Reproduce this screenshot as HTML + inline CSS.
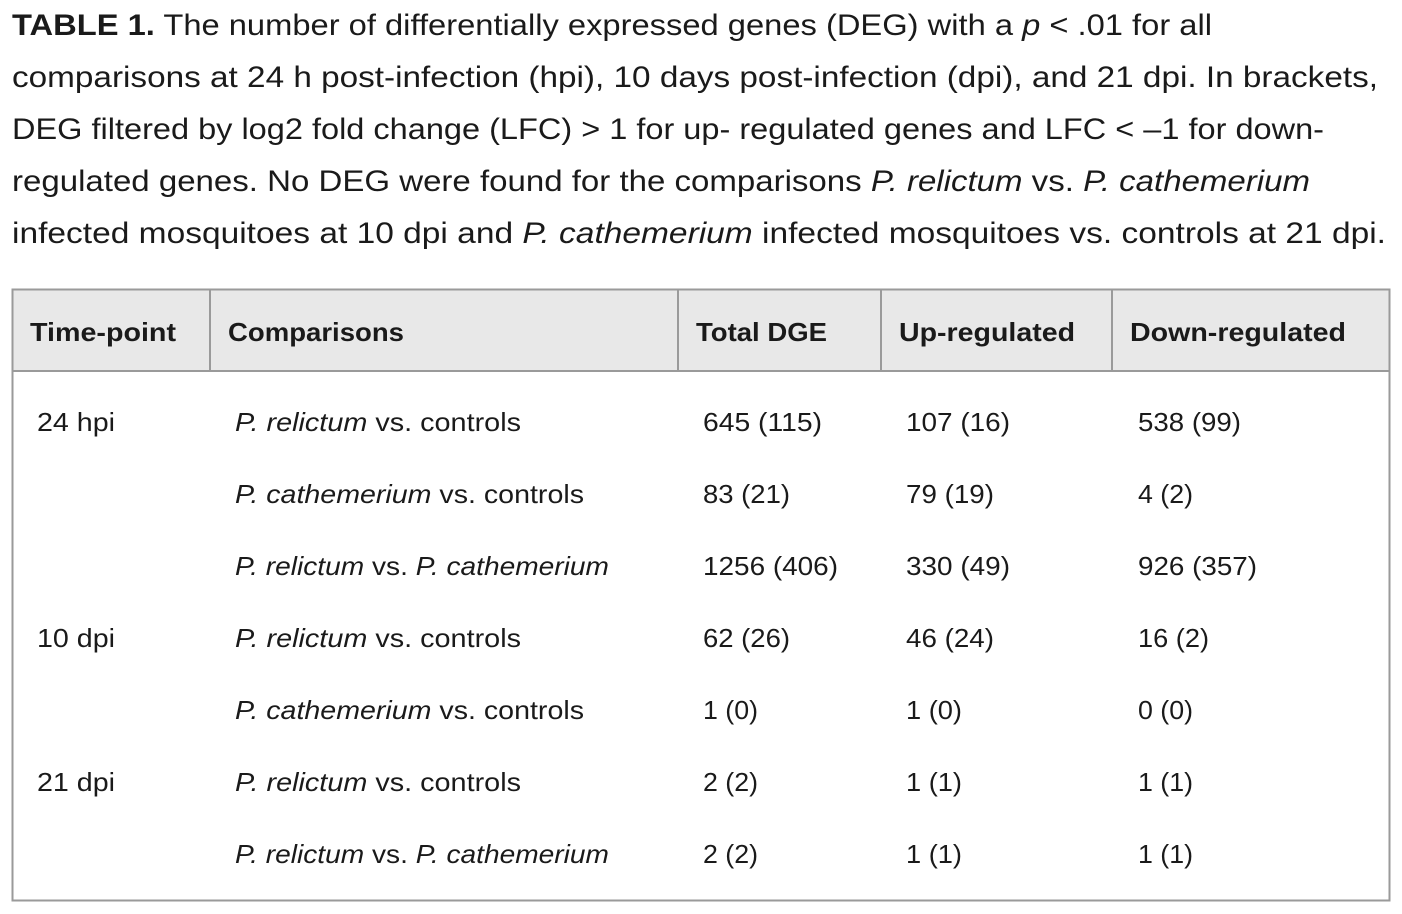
<!DOCTYPE html>
<html><head><meta charset="utf-8"><style>
html,body{margin:0;padding:0;background:#fff;}
svg{display:block;}
text{font-family:"Liberation Sans",Arial,sans-serif;fill:#1a1a1a;}
.c{font-size:30px;}
.h{font-size:26px;font-weight:bold;}
.t{font-size:26px;}
</style></head><body>
<svg width="1402" height="914" viewBox="0 0 1402 914" xmlns="http://www.w3.org/2000/svg">
<text class="c" x="12" y="35" textLength="1200" lengthAdjust="spacingAndGlyphs"><tspan font-weight="bold">TABLE 1.</tspan> The number of differentially expressed genes (DEG) with a <tspan font-style="italic">p</tspan> &lt; .01 for all</text>
<text class="c" x="12" y="87" textLength="1366" lengthAdjust="spacingAndGlyphs">comparisons at 24 h post-infection (hpi), 10 days post-infection (dpi), and 21 dpi. In brackets,</text>
<text class="c" x="12" y="139" textLength="1312" lengthAdjust="spacingAndGlyphs">DEG filtered by log2 fold change (LFC) &gt; 1 for up- regulated genes and LFC &lt; –1 for down-</text>
<text class="c" x="12" y="191" textLength="1298" lengthAdjust="spacingAndGlyphs">regulated genes. No DEG were found for the comparisons <tspan font-style="italic">P. relictum</tspan> vs. <tspan font-style="italic">P. cathemerium</tspan></text>
<text class="c" x="12" y="243" textLength="1374" lengthAdjust="spacingAndGlyphs">infected mosquitoes at 10 dpi and <tspan font-style="italic">P. cathemerium</tspan> infected mosquitoes vs. controls at 21 dpi.</text>

<rect x="12.5" y="289.5" width="1377" height="82" fill="#e8e8e8"/>
<rect x="12.5" y="289.5" width="1377" height="611" fill="none" stroke="#9a9a9a" stroke-width="2"/>
<line x1="12" y1="371" x2="1390" y2="371" stroke="#9a9a9a" stroke-width="2"/>
<g stroke="#9a9a9a" stroke-width="2">
<line x1="210" y1="289" x2="210" y2="371"/><line x1="678" y1="289" x2="678" y2="371"/>
<line x1="881" y1="289" x2="881" y2="371"/><line x1="1112" y1="289" x2="1112" y2="371"/>
</g>
<text class="h" x="30" y="341" textLength="146" lengthAdjust="spacingAndGlyphs">Time-point</text>
<text class="h" x="228" y="341" textLength="176" lengthAdjust="spacingAndGlyphs">Comparisons</text>
<text class="h" x="696" y="341" textLength="131" lengthAdjust="spacingAndGlyphs">Total DGE</text>
<text class="h" x="899" y="341" textLength="176" lengthAdjust="spacingAndGlyphs">Up-regulated</text>
<text class="h" x="1130" y="341" textLength="216" lengthAdjust="spacingAndGlyphs">Down-regulated</text>

<g>
<text class="t" x="37" y="431" textLength="78" lengthAdjust="spacingAndGlyphs">24 hpi</text>
<text class="t" x="37" y="647" textLength="78" lengthAdjust="spacingAndGlyphs">10 dpi</text>
<text class="t" x="37" y="791" textLength="78" lengthAdjust="spacingAndGlyphs">21 dpi</text>

<text class="t" x="235" y="431" textLength="286" lengthAdjust="spacingAndGlyphs"><tspan font-style="italic">P. relictum</tspan> vs. controls</text>
<text class="t" x="235" y="503" textLength="349" lengthAdjust="spacingAndGlyphs"><tspan font-style="italic">P. cathemerium</tspan> vs. controls</text>
<text class="t" x="235" y="575" textLength="374" lengthAdjust="spacingAndGlyphs"><tspan font-style="italic">P. relictum</tspan> vs. <tspan font-style="italic">P. cathemerium</tspan></text>
<text class="t" x="235" y="647" textLength="286" lengthAdjust="spacingAndGlyphs"><tspan font-style="italic">P. relictum</tspan> vs. controls</text>
<text class="t" x="235" y="719" textLength="349" lengthAdjust="spacingAndGlyphs"><tspan font-style="italic">P. cathemerium</tspan> vs. controls</text>
<text class="t" x="235" y="791" textLength="286" lengthAdjust="spacingAndGlyphs"><tspan font-style="italic">P. relictum</tspan> vs. controls</text>
<text class="t" x="235" y="863" textLength="374" lengthAdjust="spacingAndGlyphs"><tspan font-style="italic">P. relictum</tspan> vs. <tspan font-style="italic">P. cathemerium</tspan></text>

<text class="t" x="703" y="431" textLength="119" lengthAdjust="spacingAndGlyphs">645 (115)</text>
<text class="t" x="703" y="503" textLength="87" lengthAdjust="spacingAndGlyphs">83 (21)</text>
<text class="t" x="703" y="575" textLength="135" lengthAdjust="spacingAndGlyphs">1256 (406)</text>
<text class="t" x="703" y="647" textLength="87" lengthAdjust="spacingAndGlyphs">62 (26)</text>
<text class="t" x="703" y="719" textLength="55" lengthAdjust="spacingAndGlyphs">1 (0)</text>
<text class="t" x="703" y="791" textLength="55" lengthAdjust="spacingAndGlyphs">2 (2)</text>
<text class="t" x="703" y="863" textLength="55" lengthAdjust="spacingAndGlyphs">2 (2)</text>

<text class="t" x="906" y="431" textLength="104" lengthAdjust="spacingAndGlyphs">107 (16)</text>
<text class="t" x="906" y="503" textLength="88" lengthAdjust="spacingAndGlyphs">79 (19)</text>
<text class="t" x="906" y="575" textLength="104" lengthAdjust="spacingAndGlyphs">330 (49)</text>
<text class="t" x="906" y="647" textLength="88" lengthAdjust="spacingAndGlyphs">46 (24)</text>
<text class="t" x="906" y="719" textLength="56" lengthAdjust="spacingAndGlyphs">1 (0)</text>
<text class="t" x="906" y="791" textLength="56" lengthAdjust="spacingAndGlyphs">1 (1)</text>
<text class="t" x="906" y="863" textLength="56" lengthAdjust="spacingAndGlyphs">1 (1)</text>

<text class="t" x="1138" y="431" textLength="103" lengthAdjust="spacingAndGlyphs">538 (99)</text>
<text class="t" x="1138" y="503" textLength="55" lengthAdjust="spacingAndGlyphs">4 (2)</text>
<text class="t" x="1138" y="575" textLength="119" lengthAdjust="spacingAndGlyphs">926 (357)</text>
<text class="t" x="1138" y="647" textLength="71" lengthAdjust="spacingAndGlyphs">16 (2)</text>
<text class="t" x="1138" y="719" textLength="55" lengthAdjust="spacingAndGlyphs">0 (0)</text>
<text class="t" x="1138" y="791" textLength="55" lengthAdjust="spacingAndGlyphs">1 (1)</text>
<text class="t" x="1138" y="863" textLength="55" lengthAdjust="spacingAndGlyphs">1 (1)</text>
</g>
</svg>
</body></html>
